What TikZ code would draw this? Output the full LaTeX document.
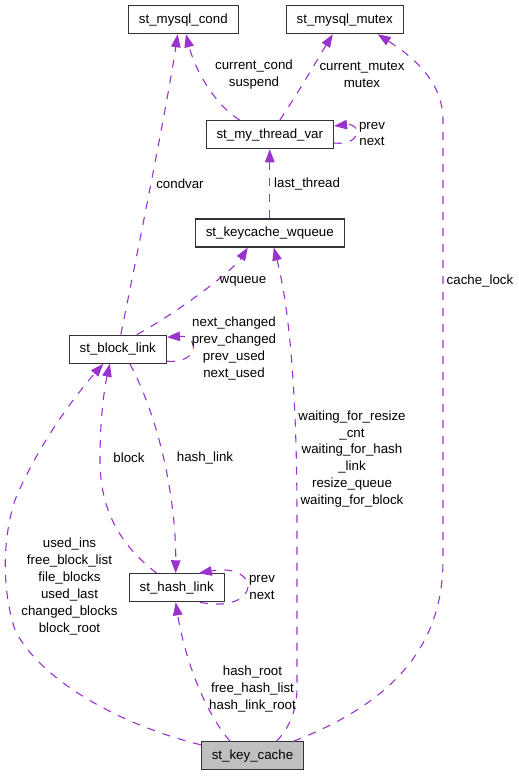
\documentclass[tikz,border=0pt]{standalone}
\usepackage{fontspec}
\setmainfont{Liberation Sans}
\usepackage{xcolor}
\usepackage{tikz}
\usetikzlibrary{arrows.meta}
\usetikzlibrary{calc}
\definecolor{refcol}{HTML}{9A32CD}

\begin{document}
\begin{tikzpicture}[x=1pt,y=-1pt]
\tikzset{every node/.style={font=\fontsize{13.3}{16.9}\selectfont}}
\tikzset{cls/.style={draw=black!80, line width=1.1pt, minimum height=28, inner xsep=10.5, inner ysep=0}}
\tikzset{root cls/.style={cls, fill=black!25}}
\tikzset{ref/.style={draw=refcol, line width=1.1pt, dash pattern=on 8pt off 8pt,
  -{Triangle[length=13pt,width=9.5pt]}}}
\tikzset{lbl/.style={align=center, inner sep=0}}

\useasboundingbox (0,0) rectangle (519,776);

   \node[cls] (cond)  at (183.3,19.7) {st\_mysql\_cond};
   \node[cls] (mutex) at (344.7,19.7) {st\_mysql\_mutex};
   \node[cls] (thr)   at (269.8,134.7) {st\_my\_thread\_var};
   \node[cls] (wq)    at (269.8,233)   {st\_keycache\_wqueue};
   \node[cls] (blk)   at (117.8,349.2) {st\_block\_link};
   \node[cls] (hsh)   at (176.7,587.8) {st\_hash\_link};
   \node[root cls] (kc) at (252.5,755.8) {st\_key\_cache};

   \draw[ref] ([xshift=3]blk.north) .. controls (140,240) and (168,100) .. ([xshift=-5.6]cond.south);
   \draw[ref] ([xshift=-30]thr.north) .. controls (215,105) and (195,70) .. ([xshift=2.7]cond.south);
   \draw[ref] ([xshift=10]thr.north) .. controls (300,90) and (320,55) .. ([xshift=-12]mutex.south);
   \draw[ref] ([xshift=41]kc.north) .. controls (400,700) and (443,640) .. (443,560)
      -- (443,120) .. controls (443,80) and (410,55) .. ([xshift=33]mutex.south);
   \draw[ref] ([yshift=-8.3]thr.east) .. controls (362,146) and (362,123) .. ([yshift=8.7]thr.east);
   \draw[ref] (wq.north) -- (thr.south);
   \draw[ref] ([xshift=19]blk.north) .. controls (185,308) and (235,268) .. ([xshift=-22]wq.south);
   \draw[ref] ([xshift=24]kc.north) .. controls (292,725) and (298,705) .. (297,680)
      -- (297,520) .. controls (297,400) and (290,310) .. ([xshift=4]wq.south);
   \draw[ref] ([yshift=-12]blk.east) .. controls (200,364) and (200,335) .. ([yshift=12]blk.east);
   \draw[ref] ([xshift=-20]hsh.north) .. controls (120,545) and (100,510) .. (100,460)
      .. controls (100,420) and (104,390) .. ([xshift=-8]blk.south);
   \draw[ref] ([xshift=12]blk.south) .. controls (160,420) and (176,500) .. ([xshift=-1]hsh.north);
   \draw[ref] ([yshift=11]kc.west) .. controls (120,725) and (40,680) .. (15,630)
      .. controls (2,590) and (2,540) .. (15,500)
      .. controls (40,440) and (80,390) .. ([xshift=-14.5]blk.south);
   \draw[ref] ([xshift=23.3]hsh.south) .. controls (262,614) and (262,562) .. ([xshift=22]hsh.north);
   \draw[ref] ([xshift=-22.5]kc.north) .. controls (205,712) and (185,660) .. ([xshift=-1]hsh.south);

   \node[lbl] (l-condvar) at (180,184) {condvar};
   \node[lbl] (l-cond)    at (254,75)  {current\_cond\\suspend};
   \node[lbl] (l-mutex)   at (362,75)  {current\_mutex\\mutex};
   \node[lbl] (l-lock)    at (480,281) {cache\_lock};
   \node[lbl] (l-thr)     at (372,134) {prev\\next};
   \node[lbl, anchor=west] (l-last) at (274,184) {last\_thread};
   \node[lbl] (l-wqueue)  at (243,281) {wqueue};
   \node[lbl] (l-wait)    at (352,459) {waiting\_for\_resize\\\_cnt\\waiting\_for\_hash\\\_link\\resize\_queue\\waiting\_for\_block};
   \node[lbl] (l-blk)     at (234,348.4) {next\_changed\\prev\_changed\\prev\_used\\next\_used};
   \node[lbl] (l-block)   at (129,458) {block};
   \node[lbl] (l-hlink)   at (205,458) {hash\_link};
   \node[lbl] (l-used)    at (69.5,586.7) {used\_ins\\free\_block\_list\\file\_blocks\\used\_last\\changed\_blocks\\block\_root};
   \node[lbl] (l-hsh)     at (262,587.4) {prev\\next};
   \node[lbl] (l-root)    at (252.5,689.3) {hash\_root\\free\_hash\_list\\hash\_link\_root};
\end{tikzpicture}
\end{document}
